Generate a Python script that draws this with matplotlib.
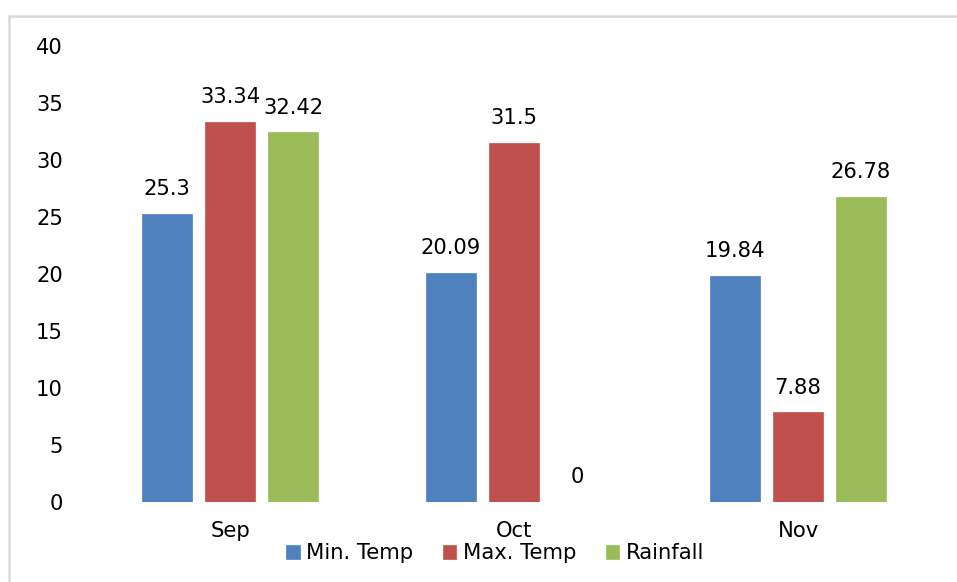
import matplotlib.pyplot as plt
from matplotlib.patches import Rectangle
import numpy as np

months = ["Sep", "Oct", "Nov"]
min_temp = [25.3, 20.09, 19.84]
max_temp = [33.34, 31.5, 7.88]
rainfall = [32.42, 0, 26.78]

series = [("Min. Temp", min_temp, "#4F81BD"),
          ("Max. Temp", max_temp, "#C0504D"),
          ("Rainfall", rainfall, "#9BBB59")]

fs = 15.2

fig = plt.figure(figsize=(9.57, 5.82), dpi=100)
ax = fig.add_axes([88/957, 1-502/582, (940-88)/957, (502-46)/582])

# outer chart border
fig.patches.append(Rectangle((9/957, -0.05), 1.0, 1-16/582+0.05,
                             transform=fig.transFigure, fill=False,
                             edgecolor="#d9d9d9", linewidth=1.8))

x = np.arange(len(months))
width = 0.176
step = 0.222
for i, (name, vals, col) in enumerate(series):
    pos = x + (i-1)*step
    bars = ax.bar(pos, vals, width, color=col, label=name,
                  edgecolor=col, linewidth=0.5)
    for b, v in zip(bars, vals):
        ax.annotate("{:g}".format(v), (b.get_x()+b.get_width()/2, v),
                    xytext=(0, 10.5), textcoords="offset points",
                    ha="center", va="bottom", fontsize=fs)

ax.set_xlim(-0.5, 2.5)
ax.set_ylim(0, 40)
ax.set_yticks(range(0, 41, 5))
ax.set_xticks(x)
ax.set_xticklabels(months)
ax.tick_params(axis="both", length=0, labelsize=fs)
ax.tick_params(axis="y", pad=18)
ax.tick_params(axis="x", pad=14)
for s in ax.spines.values():
    s.set_visible(False)

fig.legend(loc="center", bbox_to_anchor=(495/957, 1-553/582), ncol=3,
           frameon=False, fontsize=fs, handlelength=0.65, handleheight=0.65,
           handletextpad=0.3, columnspacing=1.4, borderaxespad=0)

fig.savefig("out.png", dpi=100)
